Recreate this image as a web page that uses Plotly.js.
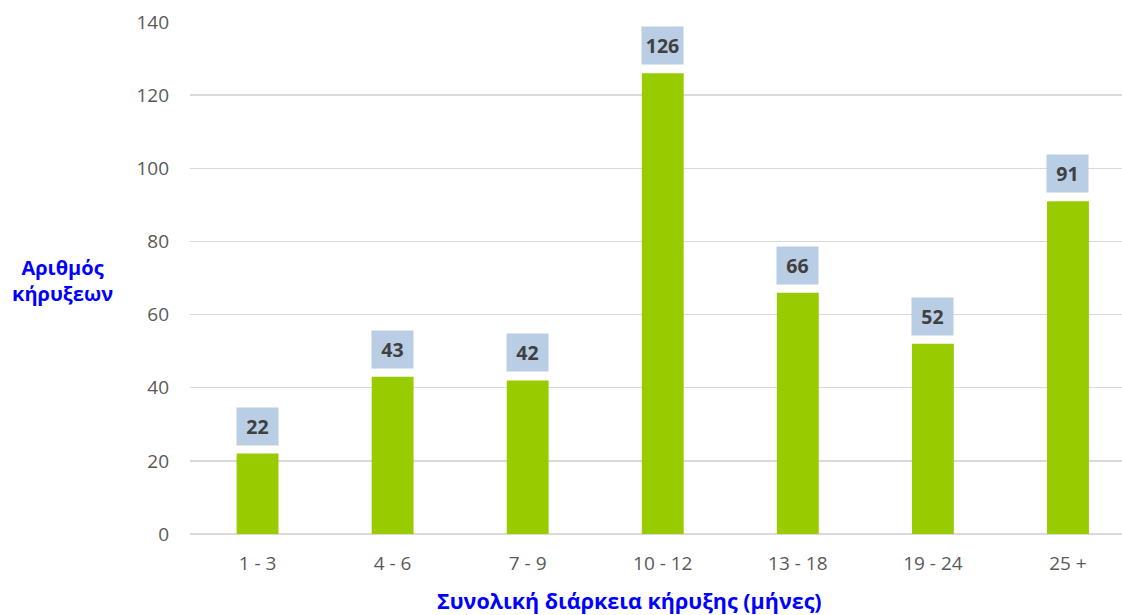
<!DOCTYPE html>
<html><head><meta charset="utf-8">
<script src="https://cdn.plot.ly/plotly-3.0.1.min.js"></script>
<style>html,body{margin:0;padding:0;background:#fff}#chart{width:1122px;height:615px}</style>
</head><body><div id="chart"></div>
<script>
const categories = ["1 - 3", "4 - 6", "7 - 9", "10 - 12", "13 - 18", "19 - 24", "25 +"];
const values = [22, 43, 42, 126, 66, 52, 91];
const yTicks = [0, 20, 40, 60, 80, 100, 120, 140];
const yTitle = "Αριθμός<br>κήρυξεων";
const xTitle = "Συνολική διάρκεια κήρυξης (μήνες)";

const FONT = "'Open Sans', 'Noto Sans', sans-serif";
const trace = {
  type: 'bar', x: categories, y: values,
  marker: {color: '#99CC00'}, width: 0.31, hoverinfo: 'none'
};
const labelAnn = categories.map((c, i) => ({
  x: c, y: values[i], xref: 'x', yref: 'y',
  text: '<b>' + values[i] + '</b>', showarrow: false,
  yanchor: 'bottom', yshift: 8,
  bgcolor: '#B9CDE5', borderpad: 0,
  width: 41, height: 37,
  font: {family: FONT, size: 19.5, color: '#404040'}
}));
const layout = {
  width: 1122, height: 615,
  margin: {l: 190, r: 0, t: 22, b: 81},
  paper_bgcolor: '#fff', plot_bgcolor: '#fff',
  showlegend: false,
  font: {family: FONT, color: '#595959', size: 19},
  xaxis: {
    type: 'category', range: [-0.5, 6.4],
    showgrid: false, zeroline: false, showline: false, ticks: '',
    ticklabelstandoff: 16,
    tickfont: {family: FONT, size: 19, color: '#595959'}
  },
  yaxis: {
    range: [0, 140], tickvals: yTicks,
    showgrid: true, gridcolor: '#D9D9D9', gridwidth: 1.5,
    zeroline: true, zerolinecolor: '#D9D9D9', zerolinewidth: 1.5,
    showline: false, ticks: '', ticklabelstandoff: 20,
    tickfont: {family: FONT, size: 19, color: '#595959'}
  },
  annotations: labelAnn.concat([
    {xref: 'paper', yref: 'paper', x: -0.137, y: 0.495, text: '<b>' + yTitle + '</b>',
     showarrow: false, xanchor: 'center', yanchor: 'middle', align: 'center',
     font: {family: FONT, size: 20, color: '#0000FF'}},
    {xref: 'paper', yref: 'paper', x: 0.472, y: -0.13, text: '<b>' + xTitle + '</b>',
     showarrow: false, xanchor: 'center', yanchor: 'middle',
     font: {family: FONT, size: 21.5, color: '#0000FF'}}
  ])
};
Plotly.newPlot('chart', [trace], layout, {displayModeBar: false, staticPlot: true});
</script></body></html>
